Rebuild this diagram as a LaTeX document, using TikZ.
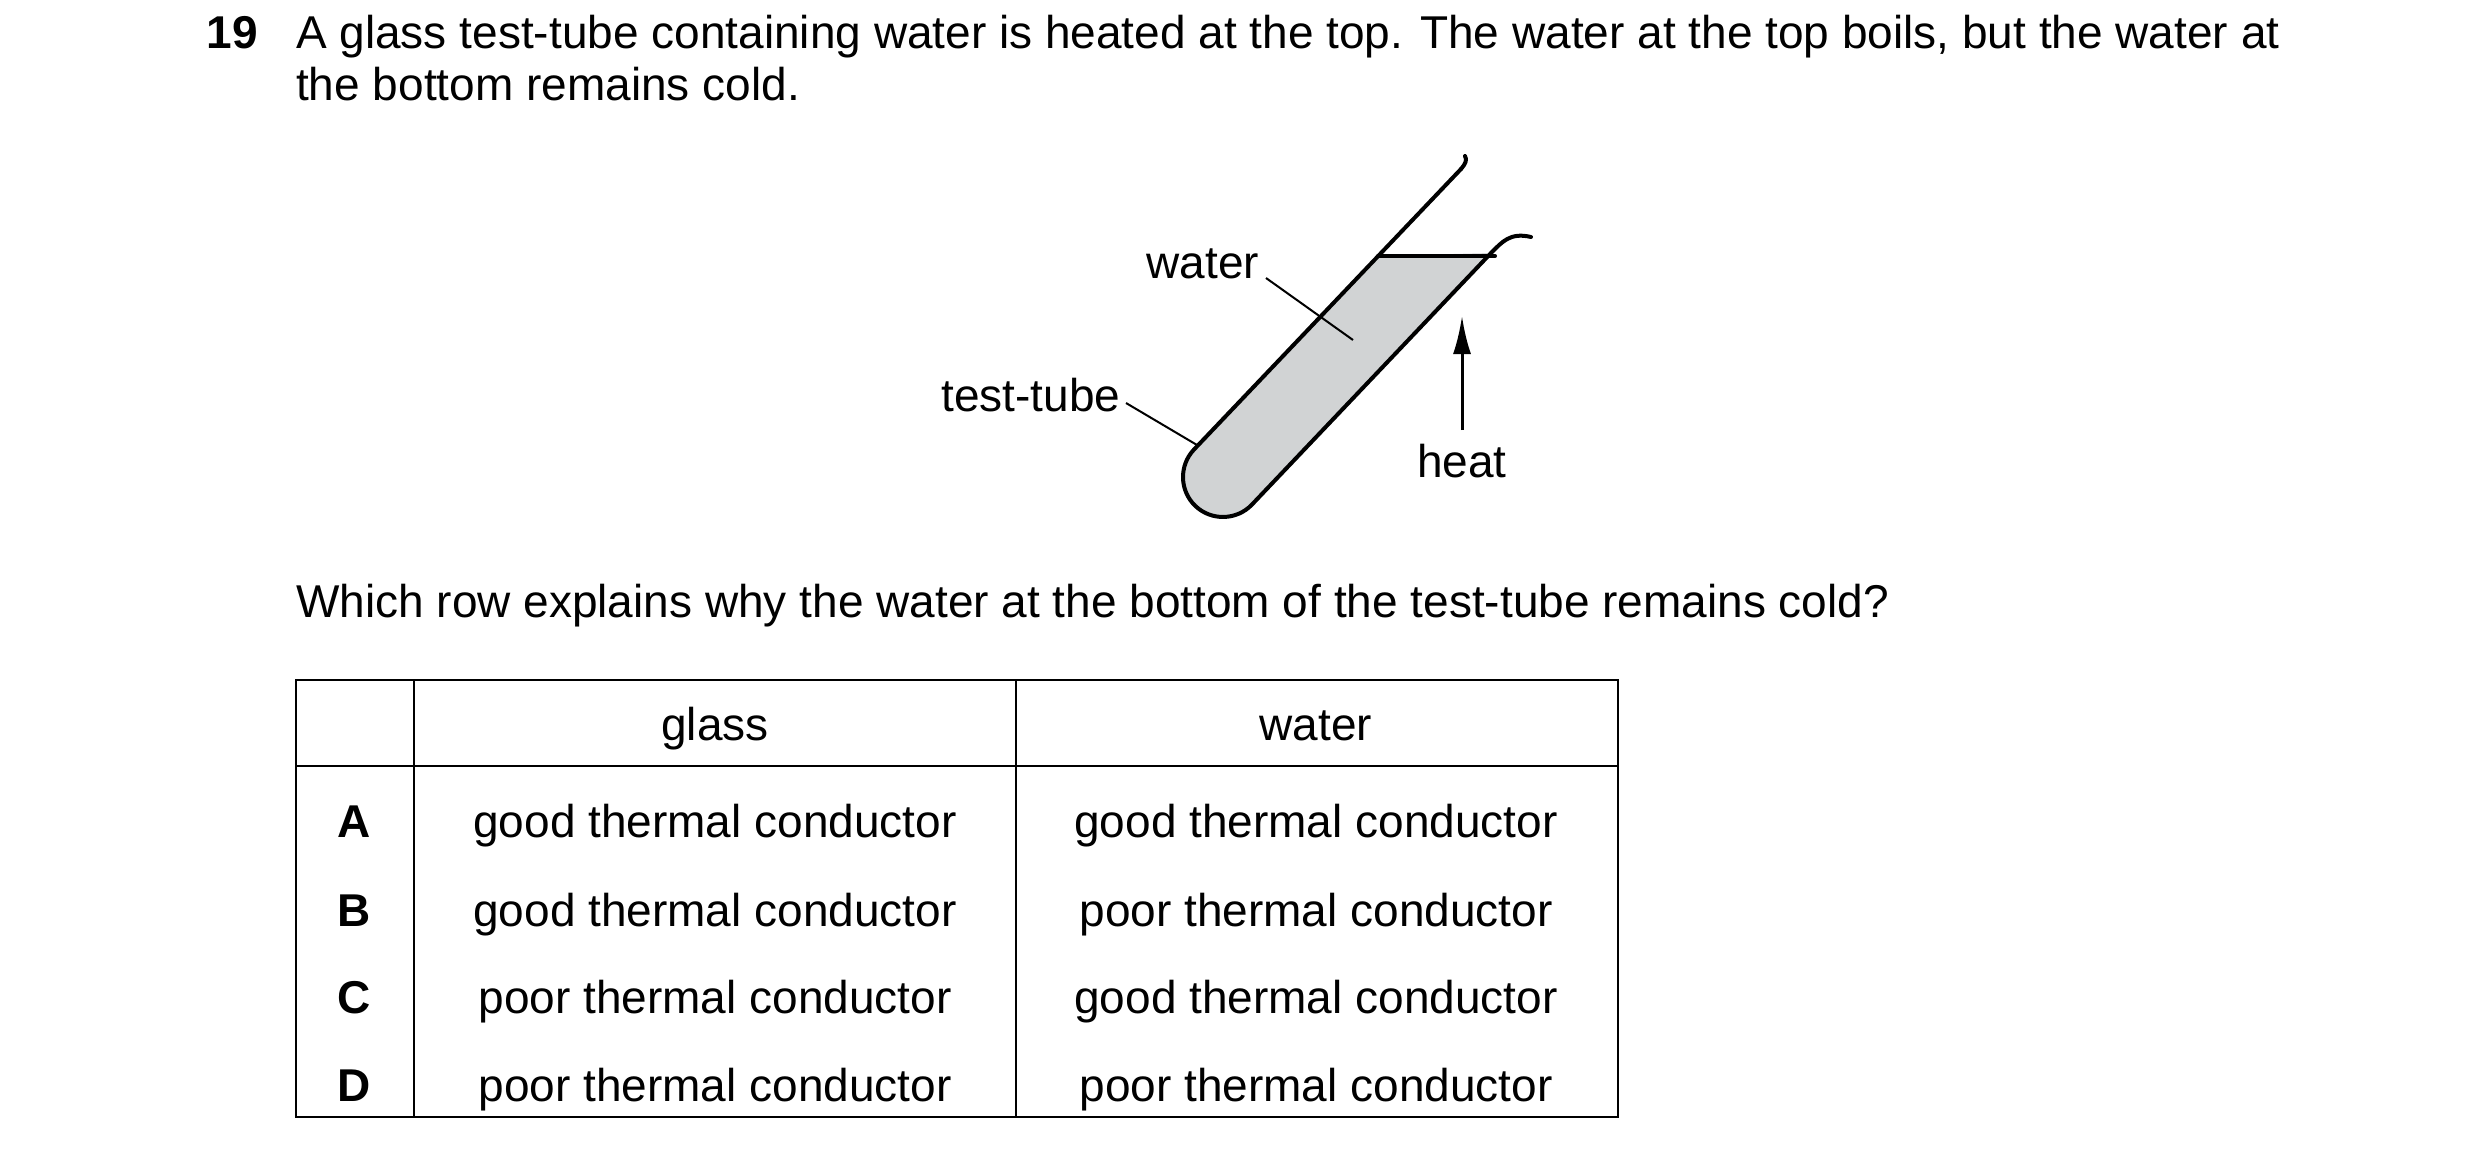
\documentclass[tikz,border=0pt]{standalone}
\usepackage{fontspec}
\setmainfont{Liberation Sans}
\usetikzlibrary{arrows.meta}
\begin{document}
\begin{tikzpicture}[x=1pt,y=-1pt,
  txt/.style={font=\fontsize{46}{55}\selectfont,inner sep=0pt},
  bt/.style={txt,font=\fontsize{46}{55}\selectfont\bfseries},
  tube/.style={line width=4pt,line cap=round,line join=round},
  lead/.style={line width=2pt},
  tab/.style={line width=2pt}]
\useasboundingbox (0,0) rectangle (2480,1157);
% heading
\node[bt,anchor=base east] (num) at (258,48) {19};
\node[txt,anchor=base west] (l1) at (296,48) {A glass test-tube containing water is heated at the top. The water at the top boils, but the water at};
\node[txt,anchor=base west] (l2) at (296,100) {the bottom remains cold.};
% tube
\fill[fill={rgb,255:red,209;green,211;blue,212}] (1378,256) -- (1194,449.5) .. controls (1178.8,465.5) and (1179.4,490.8) .. (1195.4,506)
  .. controls (1211.4,521.2) and (1236.8,520.5) .. (1252,504.5) -- (1491,253) -- cycle;
\draw[tube] (1461,169) .. controls (1466,163) and (1467,160) .. (1465,156);
\draw[tube] (1461,169) -- (1194,449.5) .. controls (1178.8,465.5) and (1179.4,490.8) .. (1195.4,506)
  .. controls (1211.4,521.2) and (1236.8,520.5) .. (1252,504.5) -- (1491,253)
  .. controls (1502,242) and (1510,232) .. (1531,237);
\draw[tube] (1378,256) -- (1495,256);
% labels
\node[txt] (water) at (1203,264) {water};
\coordinate (wa) at (1266,278);
\coordinate (wb) at (1353,340);
\draw[lead] (wa) -- (wb);
\node[txt] (tt) at (1031,395) {test-tube};
\coordinate (ta) at (1126,403);
\coordinate (tb) at (1197,445);
\draw[lead] (ta) -- (tb);
\node[txt] (heat) at (1462,461) {heat};
\coordinate (ha) at (1462,430);
\coordinate (hb) at (1462,316);
\draw[line width=3pt,-{Latex[length=38pt,width=18pt]}] (ha) -- (hb);
% question
\node[txt,anchor=base west] (q) at (296,617) {Which row explains why the water at the bottom of the test-tube remains cold?};
% table
\draw[tab] (296,680) rectangle (1618,1117);
\draw[tab] (296,766) -- (1618,766);
\draw[tab] (414,680) -- (414,1117);
\draw[tab] (1016,680) -- (1016,1117);
\node[txt,anchor=base] (hg) at (715,740) {glass};
\node[txt,anchor=base] (hw) at (1316,740) {water};
\node[bt,anchor=base] (ra) at (354,837) {A};
\node[bt,anchor=base] (rb) at (354,926) {B};
\node[bt,anchor=base] (rc) at (354,1013) {C};
\node[bt,anchor=base] (rd) at (354,1101) {D};
\node[txt,anchor=base] (ag) at (715,837) {good thermal conductor};
\node[txt,anchor=base] (aw) at (1316,837) {good thermal conductor};
\node[txt,anchor=base] (bg) at (715,926) {good thermal conductor};
\node[txt,anchor=base] (bw) at (1316,926) {poor thermal conductor};
\node[txt,anchor=base] (cg) at (715,1013) {poor thermal conductor};
\node[txt,anchor=base] (cw) at (1316,1013) {good thermal conductor};
\node[txt,anchor=base] (dg) at (715,1101) {poor thermal conductor};
\node[txt,anchor=base] (dw) at (1316,1101) {poor thermal conductor};
\end{tikzpicture}
\end{document}
